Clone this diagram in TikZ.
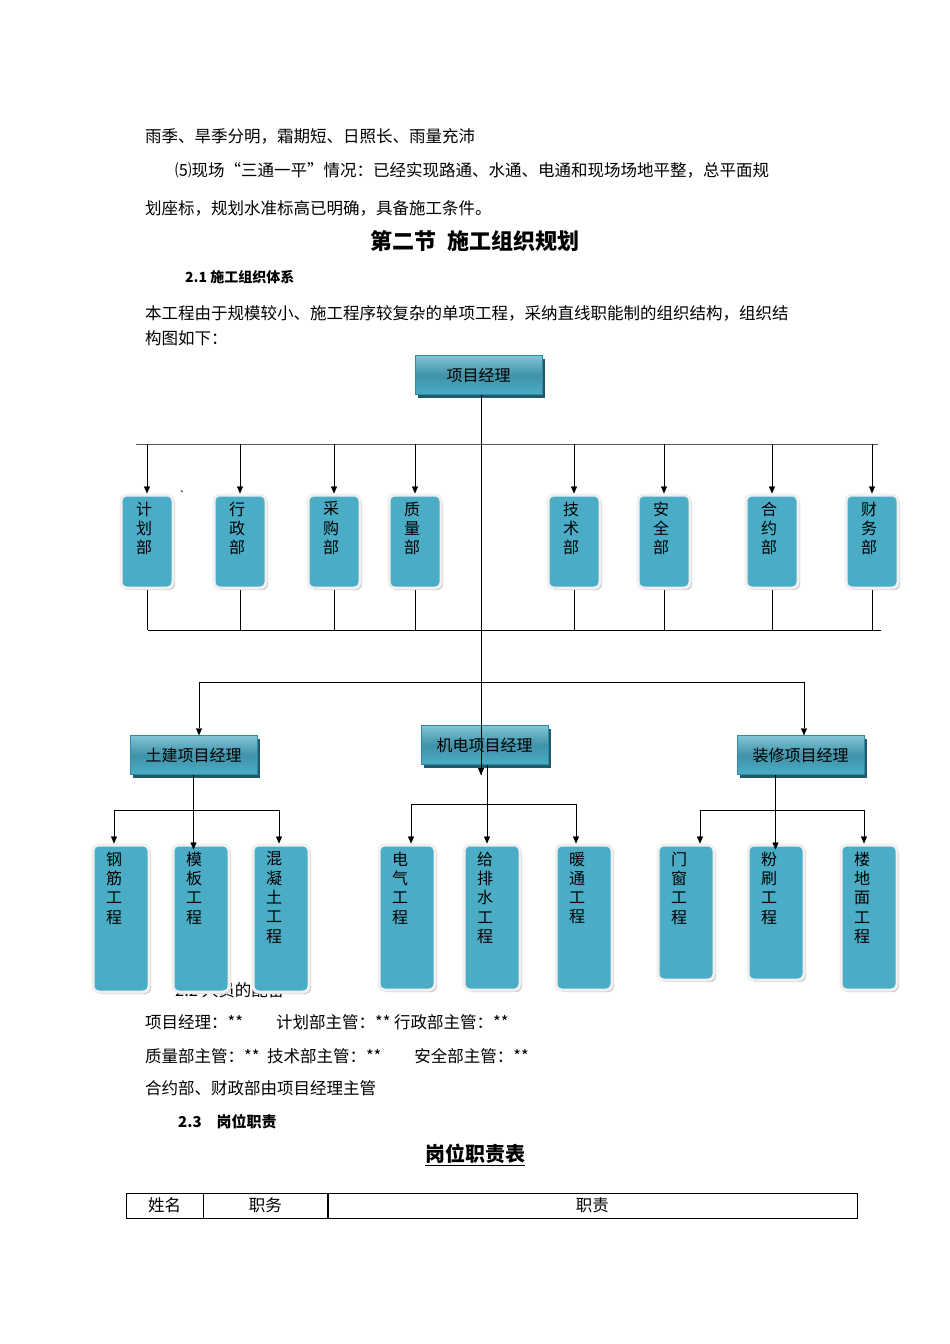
\documentclass[tikz,border=0pt]{standalone}
\usepackage{fontspec}
\setmainfont{Noto Sans CJK SC}
\usepackage{tikz}
\usetikzlibrary{arrows.meta,shadows}
\definecolor{boxcyan}{HTML}{4BACC6}
\definecolor{boxedge}{HTML}{2E8CA6}
\definecolor{boxdark}{HTML}{215968}
\tikzset{
  body text/.style={anchor=west,inner sep=0pt,font=\fontsize{16.5}{19}\selectfont},
  manager/.style={
    rectangle,minimum width=127pt,minimum height=39pt,
    top color=boxcyan!70!white,bottom color=boxcyan,middle color=boxcyan!85!black,
    draw=boxedge,thin,font=\fontsize{16}{19}\selectfont,
    drop shadow={shadow xshift=3pt,shadow yshift=-3pt,fill=boxdark,opacity=1}
  },
  dept/.style={
    rectangle,rounded corners=6pt,fill=boxcyan,
    draw=gray!12,line width=3pt,
    drop shadow={shadow xshift=2pt,shadow yshift=-2pt,fill=gray!40,opacity=1},
    minimum width=#1,inner sep=0pt
  },
  vtext/.style={anchor=north,align=center,inner sep=0pt,
    font=\fontsize{16}{19.3}\selectfont}
}
\begin{document}
\begin{tikzpicture}[x=1pt,y=-1pt,>={Triangle[length=7pt,width=6pt]}]
        \useasboundingbox[fill=white] (0,0) rectangle (950,1344);

        % page text above the chart
        \node[body text] (t1) at (145,136) {雨季、旱季分明，霜期短、日照长、雨量充沛};
        \node[body text] (t2) at (175,170) {⑸现场“三通一平”情况：已经实现路通、水通、电通和现场场地平整，总平面规};
        \node[body text] (t3) at (145,208) {划座标，规划水准标高已明确，具备施工条件。};
        \node[inner sep=0pt,font=\fontsize{22}{24}\selectfont\bfseries] (title) at (475,241) {第二节\ \ 施工组织规划};
        \node[body text,font=\fontsize{14}{16}\selectfont\bfseries] (s21) at (185,277) {2.1 施工组织体系};
        \node[body text] (t4) at (145,313) {本工程由于规模较小、施工程序较复杂的单项工程，采纳直线职能制的组织结构，组织结};
        \node[body text] (t5) at (145,338) {构图如下：};
        \node[body text] (s22) at (175,990) {2.2 人员的配备};
        \node[body text,font=\fontsize{9}{9}\selectfont] (mark) at (180,492) {、};

        % managers
        \node[manager] (PM) at (478.5,375) {项目经理};
        \node[manager] (CE) at (193.5,755) {土建项目经理};
        \node[manager] (ME) at (484.5,745) {机电项目经理};
        \node[manager] (DE) at (800.5,755) {装修项目经理};

        % departments
        \begin{scope}[every node/.style={dept=52pt,minimum height=93pt}]
            \node (JH) at (147,541.5) {};
            \node (XZ) at (240,541.5) {};
            \node (CG) at (334,541.5) {};
            \node (ZL) at (415,541.5) {};
            \node (JS) at (574,541.5) {};
            \node (AQ) at (664,541.5) {};
            \node (HY) at (772,541.5) {};
            \node (CW) at (872,541.5) {};
        \end{scope}
        \foreach \n/\t in {JH/计\\划\\部,XZ/行\\政\\部,CG/采\\购\\部,ZL/质\\量\\部,
                           JS/技\\术\\部,AQ/安\\全\\部,HY/合\\约\\部,CW/财\\务\\部}
            \node[vtext,xshift=-3pt] at ([yshift=-8pt]\n.north) {\t};

        % works
        \begin{scope}[every node/.style={dept=56pt}]
            \node[minimum height=147pt] (GJ) at (121,918.5) {};
            \node[minimum height=147pt] (MB) at (201,918.5) {};
            \node[minimum height=147pt] (HN) at (281,918.5) {};
            \node[minimum height=145pt] (DQ) at (407,917.5) {};
            \node[minimum height=145pt] (PS) at (492,917.5) {};
            \node[minimum height=145pt] (NT) at (584,917.5) {};
            \node[minimum height=135pt] (MC) at (686,912.5) {};
            \node[minimum height=135pt] (FS) at (776,912.5) {};
            \node[minimum height=145pt] (LD) at (869,917.5) {};
        \end{scope}
        \foreach \n/\t in {GJ/钢\\筋\\工\\程,MB/模\\板\\工\\程,HN/混\\凝\\土\\工\\程,
                           DQ/电\\气\\工\\程,PS/给\\排\\水\\工\\程,NT/暖\\通\\工\\程,
                           MC/门\\窗\\工\\程,FS/粉\\刷\\工\\程,LD/楼\\地\\面\\工\\程}
            \node[vtext,xshift=-7pt] at ([yshift=-8pt]\n.north) {\t};

        % bus lines
        \coordinate (busL) at (136,444);
        \coordinate (busR) at (878,444);
        \coordinate (lowL) at (148,630);
        \coordinate (lowR) at (881,630);
        \coordinate (midL) at (199,682);
        \coordinate (midR) at (804,682);
        \coordinate (ceL) at (114,810);
        \coordinate (ceR) at (279,810);
        \coordinate (meL) at (411,804);
        \coordinate (meR) at (576,804);
        \coordinate (deL) at (700,810);
        \coordinate (deR) at (864,810);
        \coordinate (trunk) at (481,775);

        \begin{scope}[black,thin]
            \draw[gray!70!black] (busL) -- (busR);
            \draw (lowL) -- (lowR);
            \draw ([xshift=2.5pt]PM.south) -- (trunk);
            \draw (midL) -- (midR);
            \draw[->] (trunk |- ME.north) -- (trunk);
            \foreach \n in {JH,XZ,CG,ZL,JS,AQ,HY,CW} {
                \draw[->] (\n.north |- busL) -- (\n.north);
                \draw (\n.south) -- (\n.south |- lowL);
            }
            \draw[->] (midL) -- (midL |- CE.north);
            \draw[->] (midR) -- (midR |- DE.north);

            \draw (ceL) -- (ceR);
            \draw[->] (CE.south) -- ([yshift=-6pt]CE.south |- MB.north);
            \draw[->] (ceL) -- (ceL |- GJ.north);
            \draw[->] (ceR) -- (ceR |- HN.north);

            \draw (meL) -- (meR);
            \draw[->] ([xshift=2.5pt]ME.south) -- ([xshift=2.5pt]ME.south |- PS.north);
            \draw[->] (meL) -- (meL |- DQ.north);
            \draw[->] (meR) -- (meR |- NT.north);

            \draw (deL) -- (deR);
            \draw[->] ([xshift=-25pt]DE.south) -- ([xshift=-25pt,yshift=-6pt]DE.south |- FS.north);
            \draw[->] (deL) -- (deL |- MC.north);
            \draw[->] (deR) -- (deR |- LD.north);
        \end{scope}

        % page text below the chart
        \node[body text] (t6) at (145,1022) {项目经理：**\qquad 计划部主管：** 行政部主管：**};
        \node[body text] (t7) at (145,1056) {质量部主管：**\ \ 技术部主管：**\qquad 安全部主管：**};
        \node[body text] (t8) at (145,1088) {合约部、财政部由项目经理主管};
        \node[body text,font=\fontsize{15}{16}\selectfont\bfseries] (s23) at (178,1122) {2.3\quad 岗位职责};
        \node[inner sep=0pt,font=\fontsize{20}{22}\selectfont\bfseries] (tbl) at (475,1155) {\underline{岗位职责表}};

        % table header
        \node[draw,thin,minimum width=77pt,minimum height=25pt,inner sep=0pt,font=\fontsize{16.5}{19}\selectfont] (h1) at (164.5,1205.5) {姓名};
        \node[draw,thin,minimum width=124pt,minimum height=25pt,inner sep=0pt,font=\fontsize{16.5}{19}\selectfont,anchor=west] (h2) at (h1.east) {职务};
        \node[draw,thin,minimum width=529pt,minimum height=25pt,inner sep=0pt,font=\fontsize{16.5}{19}\selectfont,anchor=west] (h3) at (h2.east) {职责};
\end{tikzpicture}
\end{document}
